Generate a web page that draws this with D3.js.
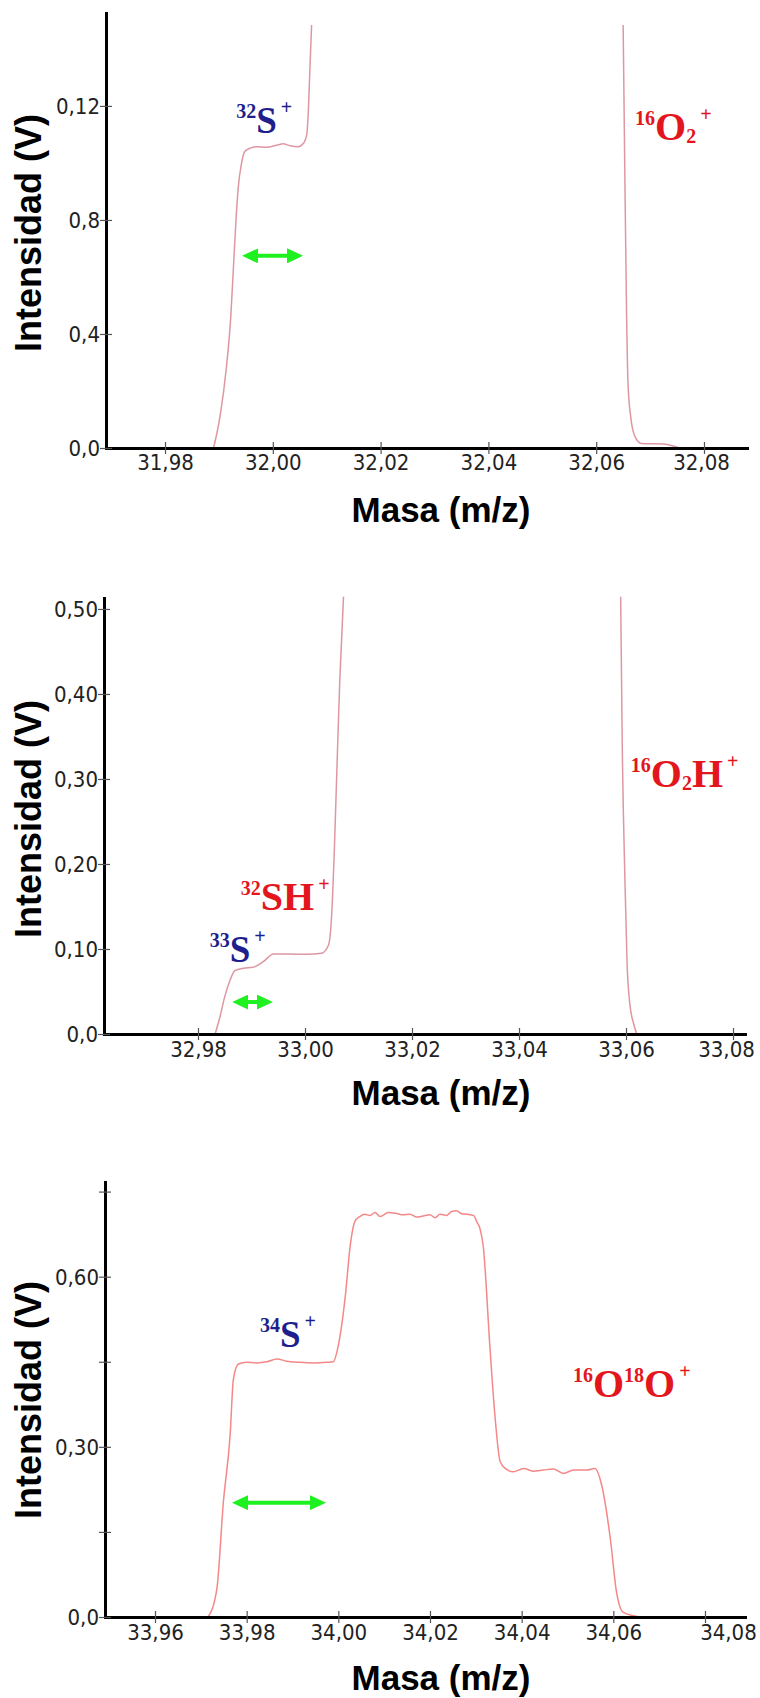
<!DOCTYPE html>
<html>
<head>
<meta charset="utf-8">
<script src="https://cdn.jsdelivr.net/npm/d3@7"></script>
<style>
  html, body { margin: 0; padding: 0; background: #fff; }
  svg { display: block; }
</style>
</head>
<body>
<svg id="chart" width="760" height="1698"></svg>
<script>
// ---- data: [mass (m/z), intensity (V)] ----

// panel 1: 32S+ and 16O2+
const s32Trace = [
  [31.9890, 0], [31.9902, 0.011], [31.9914, 0.0285], [31.9922, 0.046], [31.9927, 0.0636],
  [31.9932, 0.081], [31.9936, 0.0917], [31.9942, 0.0999], [31.9948, 0.104], [31.9958, 0.1052],
  [31.9970, 0.1057], [31.9989, 0.1055], [32.0007, 0.1062], [32.0019, 0.1067], [32.0032, 0.106],
  [32.0047, 0.1057], [32.0057, 0.1069], [32.0063, 0.110], [32.0066, 0.1186], [32.0069, 0.1338],
  [32.0072, 0.1484]
];
const o2Trace = [
  [32.0650, 0.1484], [32.0653, 0.0987], [32.0656, 0.0519], [32.0659, 0.0227], [32.0664, 0.011],
  [32.0672, 0.004], [32.0684, 0.0016], [32.0725, 0.0014], [32.0743, 0.0007], [32.0755, 0]
];

// panel 2: 33S+ / 32SH+ and 16O2H+
const s33Trace = [
  [32.9832, 0], [32.9841, 0.020], [32.9850, 0.044], [32.9860, 0.0635], [32.9869, 0.0745],
  [32.9885, 0.0773], [32.9903, 0.0784], [32.9922, 0.085], [32.9941, 0.094], [32.9966, 0.094],
  [33.0003, 0.0937], [33.0031, 0.095], [33.0044, 0.1047], [33.0050, 0.142], [33.0055, 0.220],
  [33.0059, 0.299], [33.0065, 0.416], [33.0072, 0.5145]
];
const o2hTrace = [
  [33.0590, 0.5145], [33.0593, 0.338], [33.0598, 0.181], [33.0602, 0.083], [33.0607, 0.036],
  [33.0614, 0.0126], [33.0620, 0]
];

// panel 3: 34S+ and 16O18O+
const s34Trace = [
  [33.9716, 0], [33.9735, 0.050], [33.9749, 0.201], [33.9764, 0.322], [33.9771, 0.419],
  [33.9782, 0.446], [33.9800, 0.449], [33.9822, 0.448], [33.9844, 0.450], [33.9866, 0.455],
  [33.9887, 0.451], [33.9916, 0.449], [33.9945, 0.448], [33.9975, 0.449], [33.9989, 0.450],
  [34.0000, 0.479], [34.0015, 0.564], [34.0026, 0.655], [34.0036, 0.697], [34.0047, 0.706],
  [34.0058, 0.710], [34.0069, 0.708], [34.0080, 0.713], [34.0091, 0.706], [34.0109, 0.713],
  [34.0124, 0.712], [34.0142, 0.709], [34.0156, 0.710], [34.0171, 0.705], [34.0185, 0.707],
  [34.0200, 0.709], [34.0211, 0.704], [34.0222, 0.710], [34.0236, 0.708], [34.0247, 0.715],
  [34.0258, 0.716], [34.0269, 0.711], [34.0280, 0.710], [34.0295, 0.708], [34.0302, 0.697],
  [34.0309, 0.685], [34.0316, 0.655], [34.0331, 0.473], [34.0342, 0.352], [34.0353, 0.274],
  [34.0364, 0.262], [34.0382, 0.256], [34.0404, 0.262], [34.0425, 0.257], [34.0447, 0.259],
  [34.0469, 0.261], [34.0491, 0.253], [34.0513, 0.259], [34.0542, 0.259], [34.0560, 0.262],
  [34.0575, 0.231], [34.0593, 0.141], [34.0607, 0.044], [34.0622, 0.008], [34.0658, 0]
];

// axis ticks and labels
const massTicks1 = [31.98, 32.00, 32.02, 32.04, 32.06, 32.08];
const massLabels1 = ['31,98', '32,00', '32,02', '32,04', '32,06', '32,08'];
const intTicks1 = [0, 0.04, 0.08, 0.12];
const intLabels1 = ['0,0', '0,4', '0,8', '0,12'];

const massTicks2 = [32.98, 33.00, 33.02, 33.04, 33.06, 33.08];
const massLabels2 = ['32,98', '33,00', '33,02', '33,04', '33,06', '33,08'];
const intTicks2 = [0, 0.10, 0.20, 0.30, 0.40, 0.50];
const intLabels2 = ['0,0', '0,10', '0,20', '0,30', '0,40', '0,50'];

const massTicks3 = [33.96, 33.98, 34.00, 34.02, 34.04, 34.06, 34.08];
const massLabels3 = ['33,96', '33,98', '34,00', '34,02', '34,04', '34,06', '34,08'];
const intTicks3 = [0, 0.15, 0.30, 0.45, 0.60, 0.75];
const intLabels3 = ['0,0', '', '0,30', '', '0,60', ''];

// peak labels: text parts + anchor in data space
const peakLabels1 = [
  { at: [31.9932, 0.1105], color: 'blue', parts: [['32', 'sup'], ['S', 'main'], ['+', 'plus']] },
  { at: [32.0672, 0.108], color: 'red', parts: [['16', 'sup'], ['O', 'main'], ['2', 'sub'], ['+', 'plus']] }
];
const peakLabels2 = [
  { at: [32.9880, 0.146], color: 'red', parts: [['32', 'sup'], ['SH', 'main'], ['+', 'plus']] },
  { at: [32.9822, 0.0847], color: 'blue', parts: [['33', 'sup'], ['S', 'main'], ['+', 'plus']] },
  { at: [33.0609, 0.2906], color: 'red', parts: [['16', 'sup'], ['O', 'main'], ['2', 'sub'], ['H', 'main'], ['+', 'plus']] }
];
const peakLabels3 = [
  { at: [33.9829, 0.476], color: 'blue', parts: [['34', 'sup'], ['S', 'main'], ['+', 'plus']] },
  { at: [34.0512, 0.388], color: 'red', parts: [['16', 'sup'], ['O', 'main'], ['18', 'sup'], ['O', 'main'], ['+', 'plus']] }
];

// resolution arrows: [mass from, mass to, intensity]
const arrow1 = [31.9943, 32.0056, 0.0674];
const arrow2 = [32.9864, 32.9940, 0.0376];
const arrow3 = [33.9768, 33.9973, 0.2016];

// ---- layout ----
const panels = [
  { xr: [106, 747], yr: [448, 13], xd: [31.96905, 32.08798], yd: [0, 0.1526],
    massTicks: massTicks1, massLabels: massLabels1, intTicks: intTicks1, intLabels: intLabels1,
    traces: [s32Trace, o2Trace], color: '#de97a2', labels: peakLabels1, arrow: arrow1,
    tickGap: 22, lastLabelDx: -3, titleY: 522, yTitleY: 233 },
  { xr: [104, 745], yr: [1034, 598], xd: [32.96243, 33.08224], yd: [0, 0.5129],
    massTicks: massTicks2, massLabels: massLabels2, intTicks: intTicks2, intLabels: intLabels2,
    traces: [s33Trace, o2hTrace], color: '#de97a2', labels: peakLabels2, arrow: arrow2,
    tickGap: 23, lastLabelDx: -7, titleY: 1105, yTitleY: 819 },
  { xr: [105, 745], yr: [1617, 1182], xd: [33.94909, 34.08873], yd: [0, 0.7669],
    massTicks: massTicks3, massLabels: massLabels3, intTicks: intTicks3, intLabels: intLabels3,
    traces: [s34Trace], color: '#f48888', labels: peakLabels3, arrow: arrow3,
    tickGap: 23, lastLabelDx: 23, titleY: 1690, yTitleY: 1400 }
];

const tickFont = '"DejaVu Sans Condensed", "DejaVu Sans", sans-serif';
const labelColors = { blue: '#1e1e8c', red: '#e3161e' };
const mainSize = { blue: 37, red: 40 };
const partStyle = {
  main: { size: 0, shift: 0, dx: 0 },
  sup: { size: 20, shift: -15, dx: 0 },
  sub: { size: 20, shift: 3, dx: 0 },
  plus: { size: 20, shift: -19, dx: 4 }
};
const arrowColor = '#1ff01f';

const svg = d3.select('#chart');

const defs = svg.append('defs');
defs.append('marker')
  .attr('id', 'arrowHead')
  .attr('markerUnits', 'userSpaceOnUse')
  .attr('viewBox', '0 0 16 15')
  .attr('markerWidth', 16)
  .attr('markerHeight', 15)
  .attr('refX', 4)
  .attr('refY', 7.5)
  .attr('orient', 'auto-start-reverse')
  .append('path')
  .attr('d', 'M0,0L16,7.5L0,15Z')
  .attr('fill', arrowColor);

panels.forEach(p => {
  const xs = d3.scaleLinear().domain(p.xd).range(p.xr);
  const ys = d3.scaleLinear().domain(p.yd).range(p.yr);
  const g = svg.append('g');

  // traces
  const line = d3.line().x(d => xs(d[0])).y(d => ys(d[1])).curve(d3.curveMonotoneX);
  p.traces.forEach(t => {
    g.append('path')
      .datum(t)
      .attr('d', line)
      .attr('fill', 'none')
      .attr('stroke', p.color)
      .attr('stroke-width', 1.5);
  });

  // x axis
  const xAxis = g.append('g')
    .attr('transform', `translate(0,${p.yr[0]})`)
    .call(d3.axisBottom(xs)
      .tickValues(p.massTicks)
      .tickFormat((d, i) => p.massLabels[i])
      .tickSizeOuter(0));
  xAxis.select('.domain').attr('stroke', '#000').attr('stroke-width', 3).attr('stroke-linecap', 'square');
  xAxis.selectAll('.tick line').attr('y1', -6).attr('y2', 6).attr('stroke', '#555').attr('stroke-width', 1.2);
  const nx = p.massTicks.length;
  xAxis.selectAll('.tick text')
    .attr('y', p.tickGap)
    .attr('dy', 0)
    .attr('dx', (d, i) => (i === nx - 1 ? p.lastLabelDx : 0))
    .attr('fill', '#222')
    .style('font-family', tickFont)
    .style('font-size', '22px');

  // y axis
  const yAxis = g.append('g')
    .attr('transform', `translate(${p.xr[0]},0)`)
    .call(d3.axisLeft(ys)
      .tickValues(p.intTicks)
      .tickFormat((d, i) => p.intLabels[i])
      .tickSizeOuter(0));
  yAxis.select('.domain').attr('stroke', '#000').attr('stroke-width', 3).attr('stroke-linecap', 'square');
  yAxis.selectAll('.tick line').attr('x1', -6).attr('x2', 6).attr('stroke', '#555').attr('stroke-width', 1.2);
  yAxis.selectAll('.tick text')
    .attr('x', -6)
    .attr('dy', '0.36em')
    .attr('fill', '#222')
    .style('font-family', tickFont)
    .style('font-size', '22px');

  // axis titles
  g.append('text')
    .attr('x', 441)
    .attr('y', p.titleY)
    .attr('text-anchor', 'middle')
    .style('font-family', '"Liberation Sans", Arial, sans-serif')
    .style('font-weight', 'bold')
    .style('font-size', '35px')
    .text('Masa (m/z)');

  g.append('text')
    .attr('transform', `translate(41,${p.yTitleY}) rotate(-90)`)
    .attr('text-anchor', 'middle')
    .style('font-family', '"Liberation Sans", Arial, sans-serif')
    .style('font-weight', 'bold')
    .style('font-size', '36px')
    .text('Intensidad (V)');

  // peak labels
  p.labels.forEach(lb => {
    const txt = g.append('text')
      .attr('x', xs(lb.at[0]))
      .attr('y', ys(lb.at[1]))
      .attr('fill', labelColors[lb.color])
      .style('font-family', '"Liberation Serif", "Times New Roman", serif')
      .style('font-weight', 'bold');
    let prev = 0;
    lb.parts.forEach(([s, kind]) => {
      const st = partStyle[kind];
      const size = kind === 'main' ? mainSize[lb.color] : st.size;
      txt.append('tspan')
        .attr('dy', st.shift - prev)
        .attr('dx', st.dx)
        .style('font-size', size + 'px')
        .text(s);
      prev = st.shift;
    });
  });

  // resolution arrow
  const [m0, m1, v] = p.arrow;
  g.append('line')
    .attr('x1', xs(m0) + 12)
    .attr('x2', xs(m1) - 12)
    .attr('y1', ys(v))
    .attr('y2', ys(v))
    .attr('stroke', arrowColor)
    .attr('stroke-width', 4)
    .attr('marker-start', 'url(#arrowHead)')
    .attr('marker-end', 'url(#arrowHead)');
});
</script>
</body>
</html>
